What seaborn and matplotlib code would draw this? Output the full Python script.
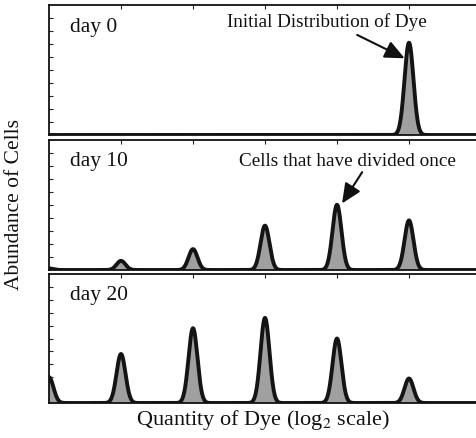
import numpy as np
import pandas as pd
import seaborn as sns
import matplotlib
matplotlib.use("Agg")
import matplotlib.pyplot as plt

# ---- data ----
days = ["day 0", "day 10", "day 20"]
peak_positions = [0, 1, 2, 3, 4, 5]          # log2 dye quantity of each generation peak
day0_heights = [0.0, 0.0, 0.0, 0.0, 0.0, 0.71]
day10_heights = [0.012, 0.07, 0.16, 0.34, 0.50, 0.38]
day20_heights = [0.20, 0.38, 0.58, 0.66, 0.50, 0.19]
peak_width = 0.062
x_ticks = [1, 2, 3, 4, 5]
y_ticks = [0.1, 0.2, 0.3, 0.4, 0.5, 0.6, 0.7, 0.8, 0.9]

sns.set_theme(style="white")
plt.rcParams["font.family"] = ["Liberation Serif", "DejaVu Serif"]
plt.rcParams["mathtext.fontset"] = "stix"

W, H = 477, 438
fig = plt.figure(figsize=(W / 100, H / 100), dpi=100)

# panel pixel extents (top, bottom)
panels_px = [(5, 135), (139.5, 270), (274, 403)]
left_px, width_px = 49, 432

xgrid = np.linspace(-0.5, 6.5, 3000)
all_heights = [day0_heights, day10_heights, day20_heights]
axes = []
for (top, bot), label, heights in zip(panels_px, days, all_heights):
    ax = fig.add_axes([left_px / W, 1 - bot / H, width_px / W, (bot - top) / H])
    y = np.zeros_like(xgrid)
    for p, h in zip(peak_positions, heights):
        y += h * np.exp(-0.5 * ((xgrid - p) / peak_width) ** 2)
    df = pd.DataFrame({"x": xgrid, "y": y})
    ax.fill_between(df["x"], 0, df["y"], color="#a0a0a0", lw=0, zorder=1)
    sns.lineplot(data=df, x="x", y="y", ax=ax, color="#141414", lw=2.8, zorder=2)
    ax.set_xlim(0, 6)
    ax.set_ylim(0, 1)
    ax.set_xlabel("")
    ax.set_ylabel("")
    ax.set_xticks(x_ticks)
    ax.set_yticks(y_ticks)
    ax.set_xticklabels([])
    ax.set_yticklabels([])
    ax.tick_params(axis="x", which="both", direction="in", top=True, bottom=False,
                   length=3, width=0.8, color="#222")
    ax.tick_params(axis="y", which="both", direction="in", left=True, right=True,
                   length=3, width=0.8, color="#222")
    for s in ax.spines.values():
        s.set_color("#111")
        s.set_linewidth(1.3)
    ax.text(0.049, 0.83, label, transform=ax.transAxes, fontsize=15.5,
            va="center", ha="left", color="#111")
    axes.append(ax)

# annotations
ax0, ax1 = axes[0], axes[1]
arrow_props = dict(arrowstyle="-|>,head_length=1.0,head_width=0.45",
                   color="#111", lw=1.5, shrinkA=0, shrinkB=0)
ax0.text(3.86, 0.87, "Initial Distribution of Dye", fontsize=13.8,
         ha="center", va="center", color="#111")
ax0.annotate("", xy=(4.94, 0.59), xytext=(4.28, 0.77), arrowprops=arrow_props)
ax1.text(4.14, 0.83, "Cells that have divided once", fontsize=13.8,
         ha="center", va="center", color="#111")
ax1.annotate("", xy=(4.07, 0.51), xytext=(4.35, 0.75), arrowprops=arrow_props)

fig.text(15 / W, 1 - 205 / H, "Abundance of Cells", rotation=90, fontsize=15.5,
         ha="center", va="center", color="#111")
fig.text(263 / W, 1 - 420 / H, r"Quantity of Dye (log$_2$ scale)", fontsize=16,
         ha="center", va="center", color="#111")

fig.savefig("out.png", dpi=100)
